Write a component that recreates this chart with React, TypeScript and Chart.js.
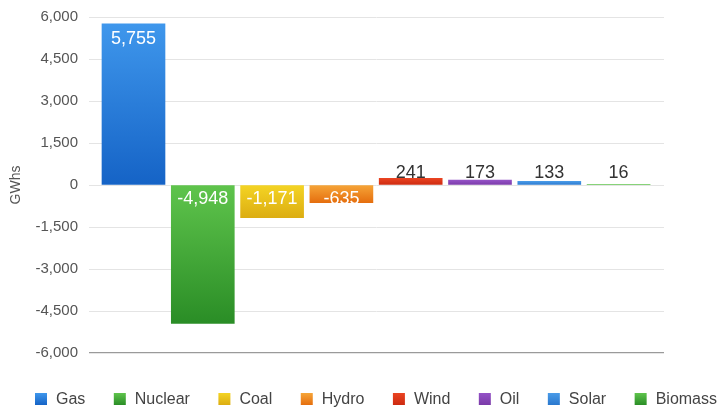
import React, { useEffect, useRef } from "react";
import { Chart, registerables } from "chart.js";

Chart.register(...registerables);

const categories = ["Gas", "Nuclear", "Coal", "Hydro", "Wind", "Oil", "Solar", "Biomass"];
const values = [5755, -4948, -1171, -635, 241, 173, 133, 16];
const topColors = ["#3f97ec", "#5fc44c", "#f4d424", "#f6a538", "#ea4422", "#9452c6", "#4a9be8", "#5fc44c"];
const bottomColors = ["#1563c6", "#2a8d26", "#dcad12", "#e56e0e", "#cc2a10", "#7a3aa8", "#2a78ce", "#2a8d26"];
const yTicks = [-6000, -4500, -3000, -1500, 0, 1500, 3000, 4500, 6000];

const FONT = '"Liberation Sans", Arial, Helvetica, sans-serif';

const labelPlugin = {
  id: "barLabels",
  afterDatasetsDraw(chart: any) {
    const ctx = chart.ctx;
    const meta = chart.getDatasetMeta(0);
    ctx.save();
    ctx.font = `18px ${FONT}`;
    ctx.textAlign = "center";
    ctx.textBaseline = "middle";
    meta.data.forEach((el: any, i: number) => {
      const v = values[i];
      const txt = v.toLocaleString("en-US");
      const h = Math.abs(el.base - el.y);
      let ty: number;
      let color: string;
      if (v > 0 && h > 30) {
        ty = el.y + 15;
        color = "#ffffff";
      } else if (v > 0) {
        ty = el.base - 11;
        color = "#333333";
      } else {
        ty = el.base + 14;
        color = "#ffffff";
      }
      ctx.fillStyle = color;
      ctx.fillText(txt, el.x, ty);
    });
    ctx.restore();
  },
};

const legendPlugin = {
  id: "customLegend",
  afterDraw(chart: any) {
    const ctx = chart.ctx;
    ctx.save();
    ctx.font = `16px ${FONT}`;
    ctx.textBaseline = "middle";
    ctx.textAlign = "left";
    const box = 12;
    const gapBT = 9;
    const widths = categories.map((c) => box + gapBT + ctx.measureText(c).width);
    const startX = 35;
    const endX = 717;
    const total = widths.reduce((a, b) => a + b, 0);
    const gap = (endX - startX - total) / (categories.length - 1);
    const yc = 399;
    let x = startX;
    categories.forEach((c, i) => {
      const g = ctx.createLinearGradient(0, yc - box / 2, 0, yc + box / 2);
      g.addColorStop(0, topColors[i]);
      g.addColorStop(1, bottomColors[i]);
      ctx.fillStyle = g;
      ctx.fillRect(x, yc - box / 2, box, box);
      ctx.fillStyle = "#444444";
      ctx.fillText(c, x + box + gapBT, yc + 1);
      x += widths[i] + gap;
    });
    ctx.restore();
  },
};

export default function App() {
  const ref = useRef<HTMLCanvasElement | null>(null);

  useEffect(() => {
    document.body.style.margin = "0";
    if (!ref.current) return;
    const chart = new Chart(ref.current, {
      type: "bar",
      data: {
        datasets: [
          {
            label: "GWhs",
            data: values.map((v, i) => ({ x: i, y: v })),
            barThickness: 63,
            backgroundColor: (ctx: any) => {
              const c = ctx.chart;
              const i = ctx.dataIndex;
              if (!c.chartArea || i === undefined) return topColors[0];
              const ys = c.scales.y;
              const p1 = ys.getPixelForValue(Math.max(values[i], 0));
              const p2 = ys.getPixelForValue(Math.min(values[i], 0));
              const g = c.ctx.createLinearGradient(0, p1, 0, p2 + 0.01);
              g.addColorStop(0, topColors[i]);
              g.addColorStop(1, bottomColors[i]);
              return g;
            },
            borderWidth: 0,
          },
        ],
      },
      options: {
        responsive: false,
        animation: false,
        maintainAspectRatio: false,
        layout: { padding: { top: 17, bottom: 55, right: 54, left: 0 } },
        plugins: {
          legend: { display: false },
          tooltip: { enabled: false },
        },
        scales: {
          x: {
            type: "linear",
            min: -0.642,
            max: 7.655,
            offset: false,
            display: false,
          },
          y: {
            min: -6000,
            max: 6000,
            afterBuildTicks: (axis: any) => {
              axis.ticks = yTicks.map((v) => ({ value: v }));
            },
            afterFit: (axis: any) => {
              axis.width = 89;
              axis.paddingTop = 0;
              axis.paddingBottom = 0;
            },
            border: { display: false },
            grid: {
              drawTicks: false,
              color: (ctx: any) => (ctx.tick && ctx.tick.value === -6000 ? "#9a9a9a" : "#e4e4e4"),
              lineWidth: (ctx: any) => (ctx.tick && ctx.tick.value === -6000 ? 1.3 : 1),
            },
            ticks: {
              padding: 11,
              color: "#555555",
              font: { family: FONT, size: 15 },
              callback: (v: any) => Number(v).toLocaleString("en-US"),
            },
            title: {
              display: true,
              text: "GWhs",
              color: "#555555",
              font: { family: FONT, size: 14 },
              padding: { top: 8, bottom: 0 },
            },
          },
        },
      },
      plugins: [labelPlugin, legendPlugin],
    });
    return () => chart.destroy();
  }, []);

  return (
    <div style={{ width: 718, height: 408, background: "#ffffff" }}>
      <canvas ref={ref} width={718} height={408} style={{ display: "block" }} />
    </div>
  );
}
